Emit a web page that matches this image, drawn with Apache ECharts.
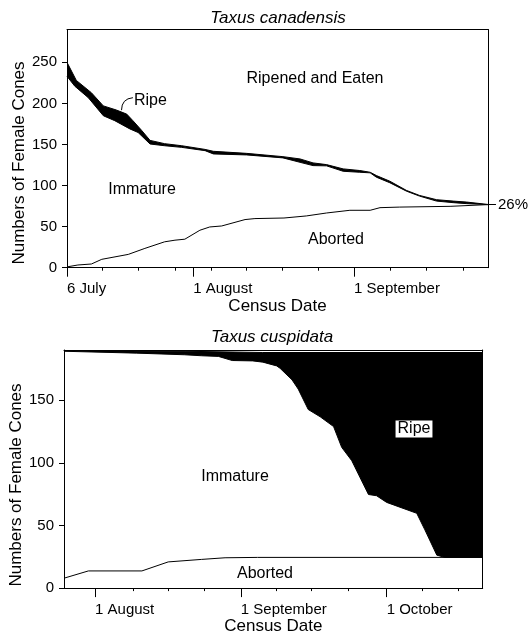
<!DOCTYPE html>
<html>
<head>
<meta charset="utf-8">
<title>Taxus female cones</title>
<script src="https://cdn.jsdelivr.net/npm/echarts@6.0.0/dist/echarts.min.js"></script>
<style>
  html, body { margin: 0; padding: 0; background: #fff; }
  #chart { width: 531px; height: 636px; }
</style>
</head>
<body>
<div id="chart"></div>
<script>
// x values are days counted from 1 July, y values are numbers of female cones

// --- Taxus canadensis ---
const canadensisRipeTop = [
  [6.7, 250], [8.5, 228], [11.4, 213], [13.7, 197], [16.2, 192], [18.2, 187],
  [19.4, 179], [21.1, 167], [22.7, 155], [25.5, 151], [28.8, 148.5], [33.3, 144],
  [34.9, 141.7], [41.3, 139.2], [48.3, 135.2], [51.6, 132.4], [54.1, 127.6],
  [56.7, 125.5], [59.9, 120.3], [63.1, 118.3], [65.1, 116.2], [66.3, 112.2],
  [68.9, 105.3], [72.1, 94.1], [74.6, 88], [77.9, 82.8], [81.1, 81.1], [83.7, 79.9], [87.8, 77]
]
const canadensisImmatureTop = [
  [6.7, 233], [8.2, 221], [10.8, 207], [13.7, 185], [15.9, 179], [18.8, 169],
  [20.4, 164.6], [22.7, 150.6], [25.5, 148.5], [28.8, 146.5], [33.3, 142.5],
  [34.9, 138.5], [41.3, 137.3], [48.3, 133.7], [51.6, 128.3], [54.1, 124.3],
  [56.7, 124], [59.9, 117.4], [63.1, 116.2], [65.1, 115.5], [66.3, 110.2],
  [68.9, 103.4], [72.1, 93.2], [74.6, 87.2], [77.9, 81.1], [81.1, 79.2], [83.7, 78], [87.8, 76.8]
]
const canadensisAborted = [
  [6.7, 1], [8.8, 3.3], [11.4, 4.5], [13.4, 10.2], [18.5, 16.2], [21.7, 23.5],
  [25.5, 31.5], [27.5, 33.5], [29.4, 34.7], [32.3, 45.6], [34.2, 49.6], [36.5, 50.8],
  [41, 58.6], [42.9, 59.8], [48.5, 60.5], [52.8, 63], [56.7, 66.6], [61.2, 69.9],
  [65.1, 69.9], [67, 73.1], [70.8, 73.8], [80.5, 74.7], [87.8, 76.8]
]
const canadensisMinorTicks = [13.5, 20.5, 27.5, 34.5, 41.3, 48.2, 55.1, 69, 76, 83]
const canadensisDateTicks = [6.7, 31, 62]
const canadensisDateLabels = ['6 July', '1 August', '1 September']
const canadensisCountTicks = [0, 50, 100, 150, 200, 250]
const canadensisEndValue = [77]
const canadensisEndLabel = '26%'
const ripeLeader = [[17.2, 191.8], [19.4, 207]]

// --- Taxus cuspidata ---
const cuspidataTotal = [
  [24.5, 189.5], [50, 189], [66, 188], [112.1, 188]
]
const cuspidataImmatureTop = [
  [24.5, 189], [39.7, 187.5], [49.7, 186.2], [53.3, 185.4], [56.8, 184.9],
  [59.7, 181.6], [64, 181.3], [66.1, 180.3], [69, 177.3], [69.7, 175.4],
  [72.2, 166.2], [73.5, 158.8], [75.6, 142.5], [78.1, 136.7], [80.9, 128.9],
  [82.6, 112.3], [84.7, 101.7], [88.2, 74.7], [89.9, 73.7], [92, 68.4],
  [98.3, 59.7], [100, 46.5], [102.5, 26.3], [104.2, 24.5], [112.1, 24.5]
]
const cuspidataAborted = [
  [24.5, 7.9], [29.6, 13.7], [40.8, 13.7], [46.3, 20.9], [53.3, 22.9],
  [58.2, 24.2], [65, 24.5], [112.1, 24.5]
]
const cuspidataMinorTicks = [39, 46.3, 53.8, 69, 76.3, 83.9, 99.4, 107]
const cuspidataDateTicks = [31, 61.5, 92]
const cuspidataDateLabels = ['1 August', '1 September', '1 October']
const cuspidataCountTicks = [0, 50, 100, 150]

const FONT = '"Liberation Sans", Arial, Helvetica, sans-serif'
const black = '#000'

function labelFor(days, names) {
  return function (v) {
    for (let i = 0; i < days.length; i++) {
      if (Math.abs(days[i] - v) < 0.01) return names[i]
    }
    return ''
  }
}

function dateAxes(grid, min, max, minor, major, names) {
  return [
    {
      gridIndex: grid, type: 'value', min: min, max: max, position: 'bottom', z: 10,
      axisLine: { lineStyle: { color: black, width: 1 } },
      axisTick: { customValues: minor, length: 3, lineStyle: { color: black } },
      axisLabel: { show: false },
      splitLine: { show: false }
    },
    {
      gridIndex: grid, type: 'value', min: min, max: max, position: 'bottom', z: 10,
      axisLine: { show: false },
      axisTick: { customValues: major, length: 9, lineStyle: { color: black } },
      axisLabel: {
        customValues: major, formatter: labelFor(major, names), align: 'left',
        margin: 14, color: black, fontSize: 15, fontFamily: FONT
      },
      splitLine: { show: false },
      name: 'Census Date', nameLocation: 'middle', nameGap: 28,
      nameTextStyle: { color: black, fontSize: 17, fontFamily: FONT }
    },
    {
      gridIndex: grid, type: 'value', min: min, max: max, position: 'top', z: 10,
      axisLine: { lineStyle: { color: black, width: 1 } },
      axisTick: { show: false }, axisLabel: { show: false }, splitLine: { show: false }
    }
  ]
}

function countAxes(grid, max, ticks, rightTicks, rightLabel) {
  return [
    {
      gridIndex: grid, type: 'value', min: 0, max: max, position: 'left', z: 10,
      axisLine: { lineStyle: { color: black, width: 1 } },
      axisTick: { customValues: ticks, length: 5, lineStyle: { color: black } },
      axisLabel: { customValues: ticks, margin: 10, color: black, fontSize: 15, fontFamily: FONT },
      splitLine: { show: false }
    },
    {
      gridIndex: grid, type: 'value', min: 0, max: max, position: 'right', z: 10,
      axisLine: { lineStyle: { color: black, width: 1 } },
      axisTick: rightTicks ? { customValues: rightTicks, length: 8, lineStyle: { color: black } } : { show: false },
      axisLabel: rightTicks ? {
        customValues: rightTicks, formatter: function () { return rightLabel },
        margin: 10, color: black, fontSize: 15, fontFamily: FONT
      } : { show: false },
      splitLine: { show: false }
    }
  ]
}

function edge(name, data, xi, yi, fill, z) {
  return {
    name: name, type: 'line', xAxisIndex: xi, yAxisIndex: yi, data: data,
    symbol: 'none', z: z, silent: true,
    lineStyle: { color: black, width: 1 },
    areaStyle: fill ? { color: fill, opacity: 1 } : undefined
  }
}

function text(str, x, y, opts) {
  return {
    type: 'text', x: x, y: y, z: 100, rotation: (opts && opts.rotation) || 0,
    style: Object.assign({
      text: str, fill: black, font: '16px ' + FONT,
      align: 'center', verticalAlign: 'middle'
    }, (opts && opts.style) || {})
  }
}

const chart = echarts.init(document.getElementById('chart'), null, { renderer: 'canvas' })

chart.setOption({
  animation: false,
  backgroundColor: '#fff',
  grid: [
    { left: 67, right: 43, top: 29.5, height: 238.2 },
    { left: 64, right: 48.3, top: 350, height: 240.7 }
  ],
  xAxis: [].concat(
    dateAxes(0, 6.7, 87.8, canadensisMinorTicks, canadensisDateTicks, canadensisDateLabels),
    dateAxes(1, 24.5, 112.1, cuspidataMinorTicks, cuspidataDateTicks, cuspidataDateLabels)
  ),
  yAxis: [].concat(
    countAxes(0, 290, canadensisCountTicks, canadensisEndValue, canadensisEndLabel),
    countAxes(1, 190, cuspidataCountTicks, null, '')
  ),
  series: [
    edge('Ripe', canadensisRipeTop, 0, 0, black, 2),
    edge('Immature', canadensisImmatureTop, 0, 0, '#fff', 3),
    edge('Aborted', canadensisAborted, 0, 0, null, 4),
    {
      type: 'lines', coordinateSystem: 'cartesian2d', xAxisIndex: 0, yAxisIndex: 0, z: 5,
      silent: true,
      lineStyle: { color: black, width: 1, curveness: 0.45, opacity: 1 },
      data: [{ coords: ripeLeader }]
    },
    edge('Ripe', cuspidataTotal, 3, 2, black, 2),
    edge('Immature', cuspidataImmatureTop, 3, 2, '#fff', 3),
    edge('Aborted', cuspidataAborted, 3, 2, null, 4)
  ],
  graphic: [
    text('Taxus canadensis', 278, 18, { style: { font: 'italic 17px ' + FONT } }),
    text('Taxus cuspidata', 272, 337, { style: { font: 'italic 17px ' + FONT } }),
    text('Numbers of Female Cones', 19, 163, { rotation: Math.PI / 2, style: { font: '17px ' + FONT } }),
    text('Numbers of Female Cones', 16, 485, { rotation: Math.PI / 2, style: { font: '17px ' + FONT } }),
    text('Ripened and Eaten', 315, 79),
    text('Ripe', 134, 101, { style: { align: 'left' } }),
    text('Immature', 142, 190),
    text('Aborted', 336, 240),
    text('Immature', 235, 477),
    text('Ripe', 414, 429, { style: { backgroundColor: '#fff', padding: [1, 2, 0, 2] } }),
    text('Aborted', 265, 574)
  ]
})
</script>
</body>
</html>
